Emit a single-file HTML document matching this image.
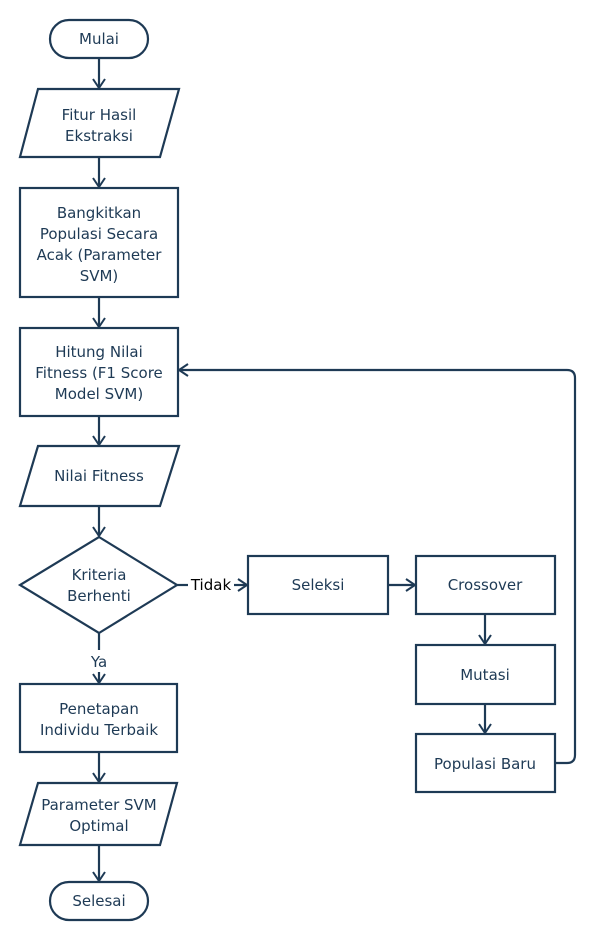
<!DOCTYPE html>
<html><head><style>
body{margin:0;background:#fff;}
svg text{font-family:"DejaVu Sans","Liberation Sans",sans-serif;font-size:15px;fill:#1e3a55;text-anchor:middle;}
</style></head><body>
<svg width="595" height="942" viewBox="0 0 595 942" xmlns="http://www.w3.org/2000/svg">
<defs><marker id="a" markerWidth="14" markerHeight="14" refX="11" refY="7" orient="auto" markerUnits="userSpaceOnUse"><path d="M2,1 L11,7 L2,13" fill="none" stroke="#1e3a55" stroke-width="2"/></marker></defs>
<g fill="none" stroke="#1e3a55" stroke-width="2.2">
<rect x="50" y="20" width="98" height="38" rx="19"/>
<polygon points="38,89 179,89 160,157 20,157"/>
<rect x="20" y="188" width="158" height="109"/>
<rect x="20" y="328" width="158" height="88"/>
<polygon points="38,446 179,446 160,506 20,506"/>
<polygon points="99,537 177,585 99,633 20,585"/>
<rect x="248" y="556" width="140" height="58"/>
<rect x="416" y="556" width="139" height="58"/>
<rect x="416" y="645" width="139" height="59"/>
<rect x="416" y="734" width="139" height="58"/>
<rect x="20" y="684" width="157" height="68"/>
<polygon points="38,783 177,783 160,845 20,845"/>
<rect x="50" y="882" width="98" height="38" rx="19"/>
<line x1="99" y1="58" x2="99" y2="88" marker-end="url(#a)"/>
<line x1="99" y1="157" x2="99" y2="187" marker-end="url(#a)"/>
<line x1="99" y1="297" x2="99" y2="327" marker-end="url(#a)"/>
<line x1="99" y1="416" x2="99" y2="445" marker-end="url(#a)"/>
<line x1="99" y1="506" x2="99" y2="536" marker-end="url(#a)"/>
<line x1="99" y1="633" x2="99" y2="650"/>
<line x1="99" y1="672" x2="99" y2="683" marker-end="url(#a)"/>
<line x1="99" y1="752" x2="99" y2="782" marker-end="url(#a)"/>
<line x1="99" y1="845" x2="99" y2="881" marker-end="url(#a)"/>
<line x1="177" y1="585" x2="188" y2="585"/>
<line x1="234" y1="585" x2="247" y2="585" marker-end="url(#a)"/>
<line x1="388" y1="585" x2="415" y2="585" marker-end="url(#a)"/>
<line x1="485" y1="614" x2="485" y2="644" marker-end="url(#a)"/>
<line x1="485" y1="704" x2="485" y2="733" marker-end="url(#a)"/>
<path d="M555,763 H567 Q575,763 575,755 V378 Q575,370 567,370 H179" marker-end="url(#a)"/>
</g>
<text x="99" y="44">Mulai</text>
<text x="99" y="120">Fitur Hasil</text><text x="99" y="141">Ekstraksi</text>
<text x="99" y="218">Bangkitkan</text><text x="99" y="239">Populasi Secara</text><text x="99" y="260">Acak (Parameter</text><text x="99" y="281">SVM)</text>
<text x="99" y="357">Hitung Nilai</text><text x="99" y="378">Fitness (F1 Score</text><text x="99" y="399">Model SVM)</text>
<text x="99" y="481">Nilai Fitness</text>
<text x="99" y="580">Kriteria</text><text x="99" y="601">Berhenti</text>
<text x="211" y="590" style="fill:#000">Tidak</text>
<text x="99" y="667">Ya</text>
<text x="318" y="590">Seleksi</text>
<text x="485" y="590">Crossover</text>
<text x="485" y="680">Mutasi</text>
<text x="485" y="769">Populasi Baru</text>
<text x="99" y="714">Penetapan</text><text x="99" y="735">Individu Terbaik</text>
<text x="99" y="810">Parameter SVM</text><text x="99" y="831">Optimal</text>
<text x="99" y="906">Selesai</text>
</svg>
</body></html>
